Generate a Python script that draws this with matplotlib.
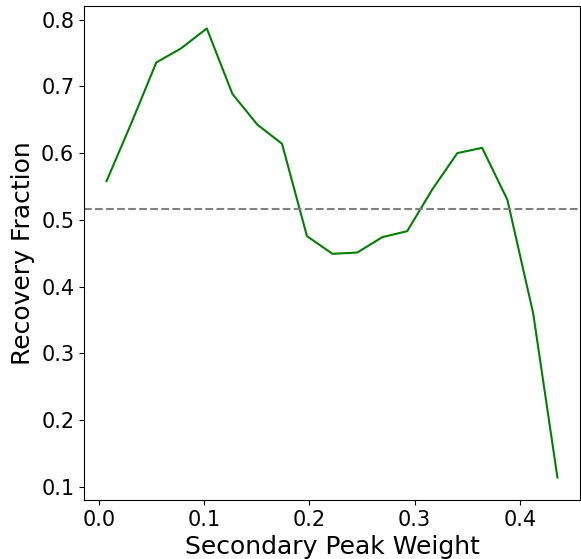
import matplotlib
matplotlib.use("Agg")
import matplotlib.pyplot as plt

weights = [0.0072, 0.0305, 0.0545, 0.0779, 0.1025, 0.1268, 0.1504, 0.1740, 0.1977,
           0.2220, 0.2456, 0.2693, 0.2930, 0.3166, 0.3406, 0.3642, 0.3882, 0.4127, 0.4358]
recovery = [0.558, 0.644, 0.736, 0.757, 0.787, 0.689, 0.643, 0.614, 0.4755,
            0.449, 0.451, 0.474, 0.483, 0.545, 0.600, 0.608, 0.530, 0.360, 0.1135]
reference_level = 0.516

fig = plt.figure(figsize=(5.81, 5.59), dpi=100)
ax = fig.add_axes([84/581, 59/559, 496/581, 494/559])
ax.plot(weights, recovery, color="green", linewidth=1.5)
ax.axhline(reference_level, color="gray", linestyle="--", linewidth=1.5)
ax.set_xlabel("Secondary Peak Weight", fontsize=18, labelpad=4)
ax.set_ylabel("Recovery Fraction", fontsize=18)
ax.tick_params(labelsize=15)
ax.set_xticks([0.0, 0.1, 0.2, 0.3, 0.4])
ax.set_yticks([0.1, 0.2, 0.3, 0.4, 0.5, 0.6, 0.7, 0.8])
fig.savefig("out.png", dpi=100)
